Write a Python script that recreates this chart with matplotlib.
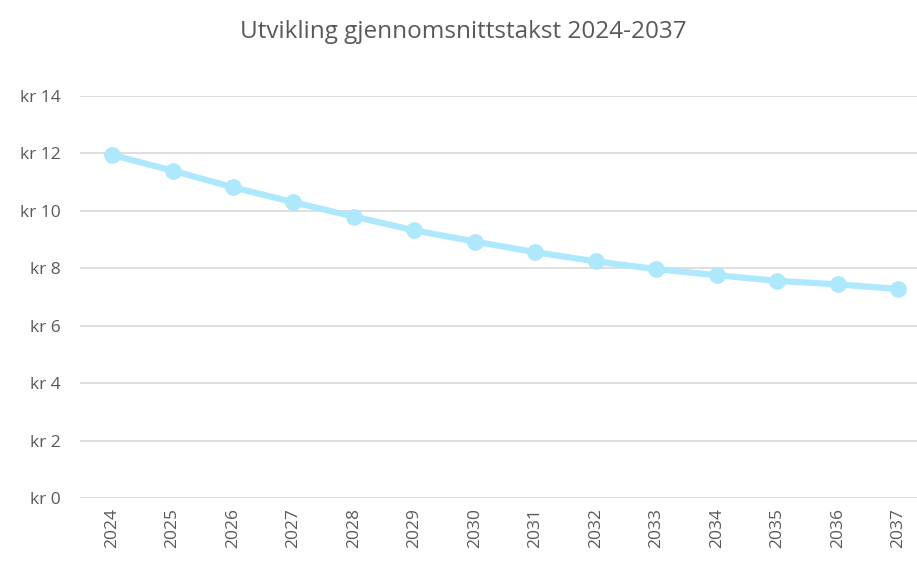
import matplotlib
matplotlib.use("Agg")
import matplotlib.pyplot as plt

years = ["2024", "2025", "2026", "2027", "2028", "2029", "2030",
         "2031", "2032", "2033", "2034", "2035", "2036", "2037"]
takst = [11.95, 11.40, 10.82, 10.30, 9.80, 9.32, 8.93,
         8.56, 8.24, 7.97, 7.76, 7.56, 7.44, 7.28]
yticks = [0, 2, 4, 6, 8, 10, 12, 14]

plt.rcParams['font.family'] = ['Open Sans', 'DejaVu Sans']
text_col = "#595959"

fig = plt.figure(figsize=(9.17, 5.63), dpi=100)
ax = fig.add_axes([80/917, 65/563, 837/917, 402/563])

x = list(range(len(years)))
ax.plot(x, takst, color="#ADE8FC", lw=4.5, marker="o", ms=11,
        solid_capstyle="round", zorder=3)

ax.set_ylim(0, 14)
ax.set_xlim(-0.53, 13.31)
ax.set_yticks(yticks)
ax.set_yticklabels([f"kr {v}" for v in yticks], color=text_col, fontsize=12.5)
ax.set_xticks(x)
ax.set_xticklabels(years, rotation=90, color=text_col, fontsize=12.5)
ax.tick_params(length=0, pad=7)
ax.tick_params(axis="y", pad=14)
ax.grid(axis="y", color="#D9D9D9", lw=1.2)
ax.set_axisbelow(True)
for s in ax.spines.values():
    s.set_visible(False)

fig.text(463/917, 1 - 32/563, "Utvikling gjennomsnittstakst 2024-2037",
         ha="center", va="center", fontsize=17.5, color=text_col)

fig.savefig("out.png", dpi=100)
